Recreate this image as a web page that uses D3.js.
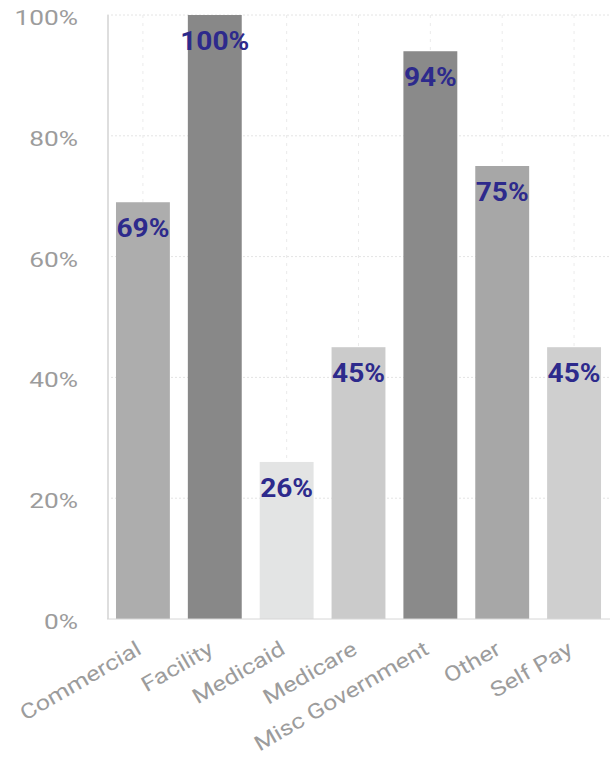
<!DOCTYPE html>
<html lang="en">
<head>
    <meta charset="UTF-8">
    <title>Payer share</title>
    <script src="https://d3js.org/d3.v7.min.js"></script>
    <style>
        body { margin: 0; background: #fff; font-family: Roboto, "Noto Sans", Arial, sans-serif; }
        .tick-label { font-size: 21px; fill: #9c9c9c; text-anchor: end; }
        .data-label { font-size: 26px; font-weight: bold; fill: #2d2a8c; text-anchor: middle; }
        .cat-label { font-size: 21px; fill: #9c9c9c; text-anchor: end; }
    </style>
</head>
<body>
    <div id="chart"></div>

    <script>
        const categories = ["Commercial", "Facility", "Medicaid", "Medicare", "Misc Government", "Other", "Self Pay"];
        const values = [69, 100, 26, 45, 94, 75, 45];
        const barColors = ["#adadad", "#888888", "#e3e4e4", "#cbcbcb", "#8a8a8a", "#a7a7a7", "#cfcfcf"];
        const yTicks = [0, 20, 40, 60, 80, 100];

        const W = 614, H = 761;
        const svg = d3.select("#chart").append("svg")
            .attr("width", W)
            .attr("height", H);

        const x = d3.scaleBand().domain(categories).range([107, 610]).paddingInner(0.25).paddingOuter(0.125);
        const y = d3.scaleLinear().domain([0, 100]).range([619, 15]);
        const cx = d => x(d) + x.bandwidth() / 2;

        // grid
        svg.append("g").selectAll("line")
            .data(yTicks.filter(t => t > 0))
            .enter().append("line")
            .attr("x1", 107).attr("x2", 610)
            .attr("y1", d => y(d)).attr("y2", d => y(d))
            .attr("stroke", "#e4e4e4")
            .attr("stroke-dasharray", "2,2");

        svg.append("g").selectAll("line")
            .data(categories)
            .enter().append("line")
            .attr("x1", cx).attr("x2", cx)
            .attr("y1", y(100)).attr("y2", y(0))
            .attr("stroke", "#ebebeb")
            .attr("stroke-dasharray", "3,5");

        // bars
        svg.append("g").selectAll("rect")
            .data(categories)
            .enter().append("rect")
            .attr("x", d => x(d))
            .attr("y", (d, i) => y(values[i]))
            .attr("width", x.bandwidth())
            .attr("height", (d, i) => y(0) - y(values[i]))
            .attr("fill", (d, i) => barColors[i]);

        // axis lines
        svg.append("line").attr("x1", 108).attr("x2", 108).attr("y1", y(100)).attr("y2", y(0))
            .attr("stroke", "#dedede").attr("stroke-width", 2);
        svg.append("line").attr("x1", 107).attr("x2", 610).attr("y1", y(0)).attr("y2", y(0))
            .attr("stroke", "#d6d6d6");

        // y tick labels
        svg.append("g").selectAll("text")
            .data(yTicks)
            .enter().append("text")
            .attr("class", "tick-label")
            .attr("transform", d => `translate(78,${y(d) + 10}) scale(1.25,1)`)
            .text(d => d + "%");

        // value labels
        svg.append("g").selectAll("text")
            .data(categories)
            .enter().append("text")
            .attr("class", "data-label")
            .attr("transform", (d, i) => `translate(${cx(d)},${y(values[i]) + 35}) scale(1.08,1)`)
            .text((d, i) => values[i] + "%");

        // category labels
        svg.append("g").selectAll("text")
            .data(categories)
            .enter().append("text")
            .attr("class", "cat-label")
            .attr("transform", d => `translate(${cx(d)},${y(0) + 34}) rotate(-30) scale(1.2,1)`)
            .text(d => d);
    </script>
</body>
</html>
